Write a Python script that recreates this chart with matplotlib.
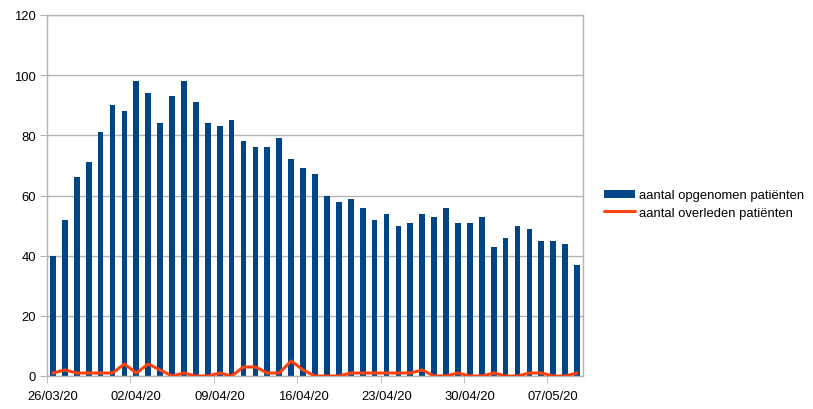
import numpy as np
import pandas as pd
import matplotlib
matplotlib.use("Agg")
import matplotlib.pyplot as plt
from matplotlib.ticker import FixedLocator

# data
dates = pd.date_range("2020-03-26", periods=45, freq="D")
date_labels = [d.strftime("%d/%m/%y") for d in dates]

opgenomen = [40, 52, 66, 71, 81, 90, 88, 98, 94, 84,
             93, 98, 91, 84, 83, 85, 78, 76, 76, 79,
             72, 69, 67, 60, 58, 59, 56, 52, 54, 50,
             51, 54, 53, 56, 51, 51, 53, 43, 46, 50,
             49, 45, 45, 44, 37]
overleden = [1, 2, 1, 1, 1, 1, 4, 1, 4, 2,
             0, 1, 0, 0, 1, 0, 3, 3, 1, 1,
             5, 2, 0, 0, 0, 1, 1, 1, 1, 1,
             1, 2, 0, 0, 1, 0, 0, 1, 0, 0,
             1, 1, 0, 0, 1]

label_bar = "aantal opgenomen patiënten"
label_line = "aantal overleden patiënten"

BAR_COLOR = "#004586"
LINE_COLOR = "#ff420e"
GRID_COLOR = "#b3b3b3"

plt.rcParams["font.family"] = ["Liberation Sans", "DejaVu Sans"]
plt.rcParams["font.size"] = 9.4

fig = plt.figure(figsize=(8.13, 4.10), dpi=100)
ax = fig.add_axes([47 / 813, 1 - 377 / 410, (583 - 47) / 813, (377 - 16) / 410])

x = np.arange(len(opgenomen))
bars = ax.bar(x, opgenomen, width=0.48, color=BAR_COLOR, zorder=2)
line, = ax.plot(x, overleden, color=LINE_COLOR, lw=2.2, solid_joinstyle="round",
                solid_capstyle="round", zorder=3)

ax.set_xlim(-0.5, len(x) - 0.5)
ax.set_ylim(0, 120)
ax.set_yticks(np.arange(0, 121, 20))
ax.grid(axis="y", color=GRID_COLOR, lw=1, zorder=0)
ax.set_axisbelow(True)

# labels on bar centres, tick marks on category boundaries
ax.set_xticks(x[::7])
ax.set_xticklabels(date_labels[::7])
ax.xaxis.set_minor_locator(FixedLocator(np.arange(-0.5, len(x), 7)))
ax.tick_params(axis="x", which="major", length=0, pad=10)
ax.tick_params(axis="x", which="minor", length=5, color=GRID_COLOR)
ax.tick_params(axis="y", length=5, color=GRID_COLOR, pad=3)

for s in ax.spines.values():
    s.set_color(GRID_COLOR)
    s.set_linewidth(1)

fig.legend([bars, line], [label_bar, label_line],
           loc="center left", bbox_to_anchor=(604 / 813, 1 - 205 / 410),
           frameon=False, borderpad=0, borderaxespad=0, handlelength=2.4,
           handletextpad=0.3, labelspacing=0.4, handleheight=0.6)

fig.savefig("out.png", dpi=100)
